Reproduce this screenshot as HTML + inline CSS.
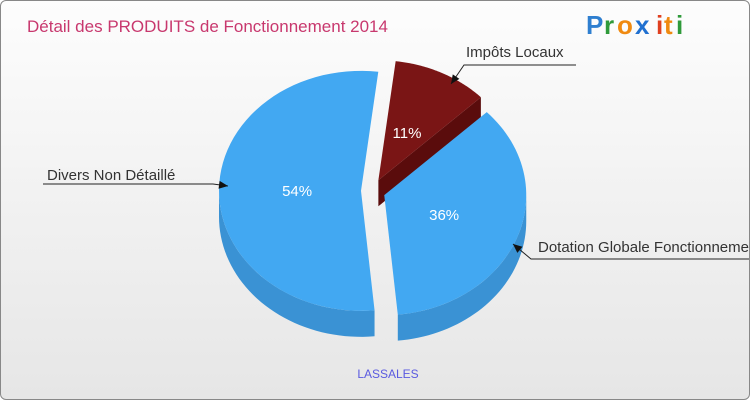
<!DOCTYPE html>
<html><head><meta charset="utf-8">
<style>
body{margin:0;width:750px;height:400px;overflow:hidden;font-family:"Liberation Sans",sans-serif;}
#wrap{position:absolute;left:0;top:0;width:748px;height:398px;border:1px solid #888;border-radius:6px;background:linear-gradient(#fdfdfd,#e6e6e6);overflow:hidden;}
svg{position:absolute;left:0;top:0;}
</style></head><body>
<div id="wrap">
<svg id="chart" width="750" height="400">
<text x="26" y="31" font-size="17" fill="#c8386e" font-family="Liberation Sans, sans-serif">Détail des PRODUITS de Fonctionnement 2014</text>
<g font-family="Liberation Sans, sans-serif" font-size="26" font-weight="bold">
<text x="585" y="33" fill="#2f7fd0">P</text><text x="603" y="33" fill="#2f9a3a">r</text><text x="616" y="33" fill="#f08a10">o</text><text x="634" y="33" fill="#2070d0">x</text><text x="655" y="33" fill="#e04020">i</text><text x="663" y="33" fill="#f08a10">t</text><text x="675" y="33" fill="#2f9a3a">i</text>
</g>
<text x="387" y="377" font-size="12" fill="#5a5ae0" text-anchor="middle">LASSALES</text>
<g id="slices"></g>
<g id="labels"></g>
</svg>
</div>
<script>
const categories=["Impôts Locaux","Dotation Globale Fonctionnement","Divers Non Détaillé"];
const values=[11,36,54];
const pctLabels=["11%","36%","54%"];
const topColors=["#7a1515","#42a8f2","#42a8f2"];
const sideColors=["#5a0c0c","#3a92d4","#3a92d4"];
const NS="http://www.w3.org/2000/svg";
const cx=372,cy=190,rx=142,ry=120,depth=26,ex=12,rot=7*Math.PI/180;
const total=values.reduce((a,b)=>a+b,0);
function pt(c,a,r){return [c[0]+rx*r*Math.sin(a),c[1]-ry*r*Math.cos(a)];}
const g=document.getElementById('slices');
let start=rot;const geo=[];
values.forEach((v,i)=>{const end=start+v/total*2*Math.PI;const mid=(start+end)/2;
 const c=[cx+ex*Math.sin(mid),cy-ex*Math.cos(mid)];geo.push({start,end,mid,c});start=end;});
function mk(tag,attrs){const e=document.createElementNS(NS,tag);for(const k in attrs)e.setAttribute(k,attrs[k]);return e;}
geo.forEach((s,i)=>{
 const vs=Math.max(s.start,Math.PI/2),ve=Math.min(s.end,3*Math.PI/2);
 if(ve>vs){const n=40;const top=[],bot=[];
  for(let k=0;k<=n;k++){const a=vs+(ve-vs)*k/n;const p=pt(s.c,a,1);top.push(p);bot.push([p[0],p[1]+depth]);}
  const d="M"+top.map(p=>p.join(",")).join("L")+"L"+bot.reverse().map(p=>p.join(",")).join("L")+"Z";
  const side=mk('path',{d,fill:sideColors[i]});
  
  
  g.appendChild(side);}
 if(i===0){const p=pt(s.c,s.end,1);
  const face=mk('path',{d:`M${s.c[0]},${s.c[1]}L${p[0]},${p[1]}L${p[0]},${p[1]+depth}L${s.c[0]},${s.c[1]+depth}Z`,fill:sideColors[0]});
  
  
  g.appendChild(face);}
});
geo.forEach((s,i)=>{const n=60;let d=`M${s.c[0]},${s.c[1]}`;
 for(let k=0;k<=n;k++){const a=s.start+(s.end-s.start)*k/n;const p=pt(s.c,a,1);d+=`L${p[0]},${p[1]}`;}
 d+="Z";const p=mk('path',{d,fill:topColors[i]});
 
 
 g.appendChild(p);
 const lp=pt(s.c,s.mid,0.45);
 const t=mk('text',{x:lp[0],y:lp[1]+6,'font-size':'15','fill':'#fff','text-anchor':'middle','font-family':'Liberation Sans, sans-serif'});
 t.textContent=pctLabels[i];
 
 
 g.appendChild(t);
});
const L=document.getElementById('labels');
const ann=[{tx:465,ty:56,lx:[575,463,450],ly:[64,64,83]},
{tx:537,ty:251,lx:[750,530,512],ly:[258,258,243]},
{tx:46,ty:179,lx:[42,212,227],ly:[183,183,185]}];
ann.forEach((a,i)=>{
 const pl=mk('polyline',{points:a.lx.map((x,k)=>x+","+a.ly[k]).join(" "),fill:"none",stroke:"#222","stroke-width":"1"});
 
 
 L.appendChild(pl);
 const n=a.lx.length-1;const ang=Math.atan2(a.ly[n]-a.ly[n-1],a.lx[n]-a.lx[n-1]);
 const hx=a.lx[n],hy=a.ly[n];
 const ar=mk('polygon',{points:`${hx},${hy} ${hx-9*Math.cos(ang)+4*Math.sin(ang)},${hy-9*Math.sin(ang)-4*Math.cos(ang)} ${hx-9*Math.cos(ang)-4*Math.sin(ang)},${hy-9*Math.sin(ang)+4*Math.cos(ang)}`,fill:"#111"});
 
 
 L.appendChild(ar);
 const t=mk('text',{x:a.tx,y:a.ty,'font-size':'15',fill:'#333','font-family':'Liberation Sans, sans-serif'});
 t.textContent=categories[i];
 
 
 L.appendChild(t);
});
</script>
</body></html>
